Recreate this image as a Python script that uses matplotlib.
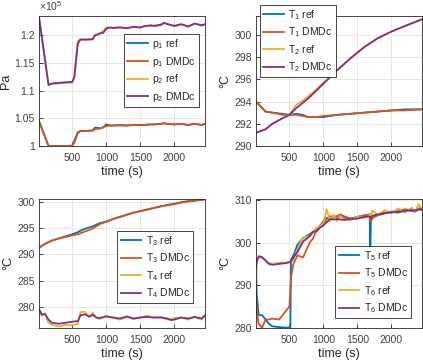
import matplotlib
matplotlib.use("Agg")
import matplotlib.pyplot as plt
from matplotlib.ticker import FuncFormatter

W, H = 423, 363

# colours (MATLAB default order)
C_BLUE = "#0072BD"
C_ORANGE = "#D95319"
C_YELLOW = "#EDB120"
C_PURPLE = "#7E2F8E"

# ---------------- top-left: pressures (x 1e5 Pa) ----------------
t_p = [10, 150, 200, 300, 400, 500, 530, 580, 620, 700, 800, 830, 870, 900, 950,
       1000, 1050, 1100, 1200, 1300, 1400, 1500, 1550, 1650, 1700, 1800, 1850,
       1900, 2000, 2100, 2150, 2200, 2300, 2400, 2450]
p1_ref = [1.045, 1.000, 1.000, 1.000, 1.000, 1.000, 1.010, 1.025, 1.027, 1.027, 1.028, 1.033, 1.033, 1.032, 1.033,
          1.039, 1.037, 1.037, 1.038, 1.037, 1.038, 1.038, 1.038, 1.039, 1.039, 1.040, 1.041,
          1.040, 1.039, 1.040, 1.039, 1.038, 1.040, 1.038, 1.040]
p1_dmdc = [1.045, 1.000, 1.000, 1.000, 1.000, 1.001, 1.006, 1.023, 1.027, 1.027, 1.028, 1.030, 1.031, 1.031, 1.034,
           1.036, 1.037, 1.037, 1.037, 1.037, 1.038, 1.038, 1.038, 1.039, 1.039, 1.040, 1.041,
           1.040, 1.039, 1.040, 1.039, 1.038, 1.040, 1.038, 1.040]
p2_ref = [1.233, 1.111, 1.112, 1.113, 1.114, 1.114, 1.125, 1.190, 1.193, 1.192, 1.192, 1.198, 1.202, 1.204, 1.207,
          1.214, 1.213, 1.214, 1.214, 1.212, 1.215, 1.214, 1.216, 1.217, 1.216, 1.218, 1.223,
          1.220, 1.216, 1.219, 1.218, 1.215, 1.221, 1.217, 1.219]
p2_dmdc = [1.233, 1.110, 1.113, 1.114, 1.115, 1.116, 1.125, 1.185, 1.192, 1.192, 1.193, 1.200, 1.201, 1.203, 1.204,
           1.212, 1.214, 1.213, 1.214, 1.213, 1.215, 1.214, 1.216, 1.218, 1.217, 1.219, 1.222,
           1.220, 1.217, 1.220, 1.218, 1.216, 1.221, 1.218, 1.220]

# ---------------- top-right: T1, T2 ----------------
t_12 = [10, 150, 250, 400, 500, 600, 700, 780, 900, 1000, 1200, 1400, 1600, 1800, 2000, 2200, 2450]
T1_ref = [294.0, 293.1, 293.0, 292.9, 292.8, 292.9, 292.8, 292.6, 292.6, 292.6, 292.8, 292.9, 293.0, 293.1, 293.2, 293.3, 293.3]
T1_dmdc = [294.0, 293.1, 293.0, 292.8, 292.8, 292.8, 292.7, 292.6, 292.6, 292.7, 292.8, 292.9, 293.0, 293.1, 293.2, 293.2, 293.3]
T2_ref = [291.2, 291.5, 292.0, 292.5, 292.8, 293.7, 294.1, 294.5, 295.1, 295.7, 296.8, 297.9, 298.9, 299.7, 300.3, 300.8, 301.4]
T2_dmdc = [291.2, 291.5, 292.0, 292.5, 292.8, 293.4, 293.9, 294.3, 295.0, 295.6, 296.8, 297.9, 298.9, 299.7, 300.3, 300.8, 301.4]

# ---------------- bottom-left: T3, T4 ----------------
t_34 = [10, 50, 100, 150, 200, 300, 400, 500, 580, 620, 680, 750, 800, 850, 900, 1000, 1100, 1200,
        1300, 1400, 1500, 1600, 1700, 1800, 1900, 1950, 2000, 2100, 2200, 2300, 2400, 2450]
T3_ref = [291.2, 291.6, 292.0, 292.3, 292.6, 293.0, 293.4, 293.8, 294.2, 294.5, 294.8, 295.1, 295.3, 295.6, 295.9, 296.2, 296.7, 297.1,
          297.5, 297.9, 298.2, 298.5, 298.8, 299.1, 299.4, 299.5, 299.6, 299.9, 300.1, 300.2, 300.4, 300.5]
T3_dmdc = [291.2, 291.6, 292.0, 292.3, 292.6, 293.0, 293.3, 293.6, 293.8, 294.0, 294.3, 294.6, 294.9, 295.3, 295.7, 296.2, 296.7, 297.1,
           297.5, 297.9, 298.2, 298.5, 298.8, 299.1, 299.3, 299.4, 299.5, 299.8, 300.0, 300.2, 300.3, 300.4]
T4_ref = [279.4, 278.3, 278.8, 277.0, 276.6, 276.3, 276.6, 276.5, 276.8, 279.0, 279.1, 278.0, 278.9, 278.0, 277.7, 278.3, 277.9, 277.6,
          278.1, 277.7, 278.0, 278.4, 277.9, 278.1, 277.6, 277.7, 277.9, 278.0, 277.6, 278.1, 277.6, 278.3]
T4_dmdc = [279.6, 278.6, 278.6, 277.6, 277.0, 276.8, 277.0, 277.2, 277.3, 278.4, 278.6, 278.2, 278.5, 278.0, 277.9, 278.2, 278.0, 277.8,
           278.2, 277.8, 278.0, 278.1, 278.0, 278.0, 277.8, 277.5, 277.6, 278.0, 277.8, 278.1, 277.8, 278.4]

# ---------------- bottom-right: T5, T6 ----------------
t_56 = [10, 20, 50, 100, 150, 200, 250, 350, 450, 500, 515, 525, 560, 620, 700, 800, 850, 900, 950,
        1000, 1050, 1100, 1150, 1200, 1250, 1300, 1400, 1500, 1600, 1680, 1690, 1700, 1720,
        1800, 1900, 2000, 2100, 2200, 2300, 2350, 2400, 2450]
T5_ref = [294.0, 288.0, 283.0, 283.0, 282.0, 281.0, 280.4, 280.2, 280.1, 280.1, 280.1, 296.0, 297.0, 299.5, 301.0, 302.0, 302.6, 303.0, 303.8,
          305.0, 305.8, 305.5, 306.0, 305.6, 306.2, 305.8, 305.6, 306.0, 306.3, 306.6, 299.0, 305.0, 305.8,
          306.4, 306.8, 307.2, 307.0, 307.6, 307.4, 307.2, 307.8, 307.6]
T5_dmdc = [290.0, 284.0, 281.0, 280.0, 282.0, 282.0, 282.2, 282.0, 284.0, 285.0, 289.0, 292.0, 295.0, 297.0, 296.5, 300.0, 301.0, 303.0, 304.0,
           304.5, 305.5, 306.2, 306.0, 306.2, 306.6, 306.2, 305.6, 306.0, 306.4, 306.5, 305.0, 305.2, 305.8,
           306.4, 307.0, 307.2, 307.4, 307.8, 307.6, 307.5, 308.0, 308.0]
T6_ref = [290.0, 296.0, 296.5, 296.4, 295.8, 295.2, 295.0, 295.3, 295.3, 295.5, 295.5, 295.6, 296.0, 298.5, 301.2, 301.5, 302.5, 303.5, 303.8,
          304.5, 307.8, 305.0, 306.5, 305.0, 306.2, 305.5, 305.3, 306.0, 305.8, 306.3, 306.8, 306.0, 307.5,
          306.5, 307.6, 306.8, 308.0, 307.0, 308.2, 307.2, 309.0, 307.8]
T6_dmdc = [294.0, 295.5, 296.8, 296.6, 295.8, 295.0, 294.8, 295.0, 295.2, 295.4, 295.5, 295.6, 296.5, 297.8, 300.2, 301.5, 302.5, 302.6, 303.5,
           304.0, 304.8, 305.5, 305.4, 305.5, 305.4, 305.3, 305.5, 305.6, 306.0, 306.1, 305.9, 305.6, 306.3,
           306.6, 306.9, 307.1, 307.2, 307.4, 307.6, 307.5, 307.8, 307.8]

plt.rcParams["font.family"] = ["Liberation Sans", "DejaVu Sans"]
plt.rcParams["mathtext.fontset"] = "custom"
plt.rcParams["mathtext.rm"] = "Liberation Sans"
plt.rcParams["mathtext.it"] = "Liberation Sans"

fig = plt.figure(figsize=(W / 100, H / 100), dpi=100)


def make_axes(x0, y0, x1, y1):
    return fig.add_axes([x0 / W, 1 - y1 / H, (x1 - x0) / W, (y1 - y0) / H])


def style(ax, ylim, yticks, ylabel):
    ax.set_xlim(10, 2450)
    ax.set_ylim(*ylim)
    ax.set_xticks([500, 1000, 1500, 2000])
    ax.set_yticks(yticks)
    ax.yaxis.set_major_formatter(FuncFormatter(lambda v, p: "%g" % v))
    ax.grid(True, color="#e3e3e3", lw=0.6)
    ax.set_axisbelow(True)
    ax.tick_params(direction="in", length=3, width=0.6, labelsize=7.5,
                   colors="#262626", labelcolor="#404040", pad=3)
    ax.tick_params(axis="x", pad=5)
    for s in ax.spines.values():
        s.set_color("#262626")
        s.set_linewidth(0.6)
    ax.set_xlabel("time (s)", fontsize=9, color="#262626", labelpad=2)
    ax.set_ylabel(ylabel, fontsize=9, color="#262626", labelpad=2)


def legend(ax, labels, anchor, loc):
    lg = ax.legend(labels, loc=loc, bbox_to_anchor=(anchor[0] / W, 1 - anchor[1] / H),
                   bbox_transform=fig.transFigure, fontsize=7.5, frameon=True, fancybox=False,
                   edgecolor="#262626", framealpha=1, borderpad=0.3, labelspacing=0.35,
                   handlelength=2.0, handletextpad=0.4, borderaxespad=0)
    lg.get_frame().set_linewidth(0.6)
    for txt in lg.get_texts():
        txt.set_color("#262626")


LW = 1.3

ax1 = make_axes(39, 16, 205, 146)
ax1.plot(t_p, p1_ref, color=C_BLUE, lw=LW)
ax1.plot(t_p, p1_dmdc, color=C_ORANGE, lw=LW)
ax1.plot(t_p, p2_ref, color=C_YELLOW, lw=LW)
ax1.plot(t_p, p2_dmdc, color=C_PURPLE, lw=LW)
style(ax1, (1.0, 1.2347), [1.0, 1.05, 1.1, 1.15, 1.2], "Pa")
ax1.text(0, 1.02, r"$\times10^5$", transform=ax1.transAxes, fontsize=7.5, color="#404040",
         ha="left", va="bottom")
legend(ax1, [r"p$_1$ ref", r"p$_1$ DMDc", r"p$_2$ ref", r"p$_2$ DMDc"], (199, 34), "upper right")

ax2 = make_axes(256, 16, 422, 146)
ax2.plot(t_12, T1_ref, color=C_BLUE, lw=LW)
ax2.plot(t_12, T1_dmdc, color=C_ORANGE, lw=LW)
ax2.plot(t_12, T2_ref, color=C_YELLOW, lw=LW)
ax2.plot(t_12, T2_dmdc, color=C_PURPLE, lw=LW)
style(ax2, (290, 301.7), [290, 292, 294, 296, 298, 300], "°C")
legend(ax2, [r"T$_1$ ref", r"T$_1$ DMDc", r"T$_2$ ref", r"T$_2$ DMDc"], (260, 5), "upper left")

ax3 = make_axes(39, 199, 205, 328)
ax3.plot(t_34, T3_ref, color=C_BLUE, lw=LW)
ax3.plot(t_34, T3_dmdc, color=C_ORANGE, lw=LW)
ax3.plot(t_34, T4_ref, color=C_YELLOW, lw=LW)
ax3.plot(t_34, T4_dmdc, color=C_PURPLE, lw=LW)
style(ax3, (276, 300.5), [280, 285, 290, 295, 300], "°C")
legend(ax3, [r"T$_3$ ref", r"T$_3$ DMDc", r"T$_4$ ref", r"T$_4$ DMDc"], (193, 231), "upper right")

ax4 = make_axes(256, 199, 422, 328)
ax4.plot(t_56, T5_ref, color=C_BLUE, lw=LW)
ax4.plot(t_56, T5_dmdc, color=C_ORANGE, lw=LW)
ax4.plot(t_56, T6_ref, color=C_YELLOW, lw=LW)
ax4.plot(t_56, T6_dmdc, color=C_PURPLE, lw=LW)
style(ax4, (280, 310.2), [280, 290, 300, 310], "°C")
legend(ax4, [r"T$_5$ ref", r"T$_5$ DMDc", r"T$_6$ ref", r"T$_6$ DMDc"], (411, 246), "upper right")

fig.savefig("out.png", dpi=100)
